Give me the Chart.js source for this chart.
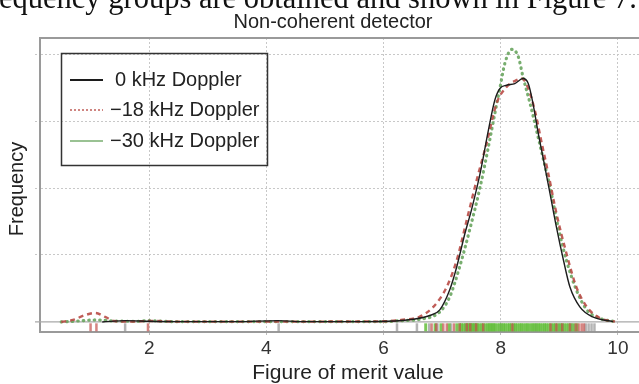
<!DOCTYPE html>
<html>
<head>
<meta charset="utf-8">
<script src="https://cdn.jsdelivr.net/npm/chart.js@4.4.1/dist/chart.umd.min.js"></script>
<style>
  body { margin: 0; background: #fff; }
  #wrap { position: relative; width: 639px; height: 384px; overflow: hidden; }
  #above {
    position: absolute; left: -1px; top: -17px; white-space: nowrap;
    font: 30.5px/30px "Liberation Serif", serif; color: #111;
  }
</style>
</head>
<body>
<div id="wrap">
  <canvas id="c" width="639" height="384"></canvas>
  <div id="above">equency groups are obtained and shown in Figure 7.</div>
</div>
<script>
// ticks
const xTicks = [2, 4, 6, 8, 10];
const yGrid = [0, 0.2, 0.4, 0.6, 0.8];
const seriesNames = ['0 kHz Doppler', '\u221218 kHz Doppler', '\u221230 kHz Doppler'];

// density curves
const x0 = [1.2, 1.6, 2.0, 2.5, 3.5, 4.2, 4.6, 5.5, 6.2, 6.5, 6.8, 6.96, 7.13, 7.25, 7.39, 7.5, 7.65, 7.79, 7.9, 7.99, 8.1, 8.24, 8.38, 8.47, 8.55, 8.64, 8.73, 8.84, 8.95, 9.07, 9.18, 9.35, 9.57, 9.92];
const y0 = [0, 0.004, 0.002, 0.001, 0.001, 0.004, 0.001, 0.001, 0.003, 0.008, 0.02, 0.036, 0.096, 0.165, 0.265, 0.334, 0.445, 0.573, 0.663, 0.698, 0.707, 0.712, 0.727, 0.712, 0.653, 0.564, 0.484, 0.385, 0.284, 0.185, 0.105, 0.045, 0.015, 0.001];

const x1 = [0.5, 0.7, 0.9, 1.08, 1.25, 1.4, 1.7, 2.0, 2.5, 4.0, 6.0, 6.3, 6.62, 6.85, 7.08, 7.25, 7.42, 7.59, 7.76, 7.93, 8.1, 8.27, 8.36, 8.46, 8.58, 8.7, 8.81, 8.95, 9.12, 9.29, 9.47, 9.69, 9.95];
const y1 = [0, 0.006, 0.02, 0.027, 0.015, 0.003, 0.001, 0.003, 0.001, 0.001, 0.002, 0.006, 0.016, 0.045, 0.105, 0.185, 0.304, 0.424, 0.534, 0.653, 0.702, 0.722, 0.727, 0.702, 0.633, 0.534, 0.445, 0.325, 0.206, 0.105, 0.045, 0.012, 0.001];

const x2 = [0.5, 0.8, 1.1, 1.4, 1.8, 2.0, 2.4, 4.0, 6.0, 6.3, 6.62, 6.96, 7.13, 7.3, 7.47, 7.65, 7.79, 7.9, 7.99, 8.07, 8.19, 8.3, 8.38, 8.5, 8.61, 8.73, 8.84, 8.98, 9.12, 9.29, 9.47, 9.69, 9.95];
const y2 = [0, 0.003, 0.006, 0.003, 0.002, 0.004, 0.001, 0.001, 0.001, 0.004, 0.008, 0.03, 0.075, 0.165, 0.275, 0.404, 0.523, 0.623, 0.702, 0.772, 0.814, 0.792, 0.732, 0.653, 0.573, 0.484, 0.404, 0.284, 0.185, 0.096, 0.036, 0.011, 0.001];

// rug marks along the bottom
const rug0 = [1.59, 4.21, 6.23, 6.57, 6.78, 6.92, 7.15, 7.4, 7.55, 8.0, 8.6, 9.0, 9.22, 9.45, 9.5, 9.55, 9.6];
const rug1 = [1.0, 1.1, 1.98, 6.82, 6.9, 7.02, 7.08, 7.2, 7.3, 7.42, 7.48, 7.58, 7.7, 8.2, 8.85, 8.95, 9.05, 9.18, 9.28, 9.33, 9.38, 9.42];
const rug2 = [6.72, 6.88, 6.98, 7.12, 7.25, 7.3, 7.33, 7.36, 7.4, 7.43, 7.45, 7.48, 7.5, 7.52, 7.55, 7.58, 7.6, 7.63, 7.67, 7.7, 7.74, 7.78, 7.8, 7.83, 7.85, 7.88, 7.9, 7.94, 7.98, 8.02, 8.05, 8.08, 8.12, 8.15, 8.18, 8.22, 8.25, 8.28, 8.32, 8.35, 8.38, 8.42, 8.45, 8.48, 8.52, 8.55, 8.58, 8.62, 8.65, 8.68, 8.72, 8.75, 8.78, 8.82, 8.86, 8.9, 8.93, 8.97, 9.02, 9.05, 9.08, 9.12, 9.16, 9.2, 9.25, 9.3];

const pts = (xs, ys) => xs.map((x, i) => ({x: x, y: ys[i]}));
const RUG_Y = -0.016;
const rugPts = r => r.map(v => ({x: v, y: RUG_Y}));

const curve = (label, data, color, width, dash, cap) => ({
  label, data, showLine: true, borderColor: color, borderWidth: width,
  borderDash: dash, borderCapStyle: cap, pointRadius: 0,
  tension: 0.4, cubicInterpolationMode: 'monotone', fill: false
});
const rug = (data, color, w) => ({
  data, showLine: false, pointStyle: 'line', rotation: 90, pointRadius: 4,
  pointBorderWidth: w, pointBorderColor: color, pointBackgroundColor: color, isRug: true
});

const FONT = '"Liberation Sans", Arial, sans-serif';

const extras = {
  id: 'extras',
  beforeDatasetsDraw(chart) {
    const {ctx, chartArea, scales} = chart;
    const y = scales.y.getPixelForValue(0);
    ctx.save();
    ctx.strokeStyle = '#a8a8a8';
    ctx.lineWidth = 1.2;
    ctx.beginPath();
    ctx.moveTo(chartArea.left - 5, y);
    ctx.lineTo(chartArea.right, y);
    ctx.stroke();
    ctx.strokeStyle = '#9a9a9a';
    ctx.lineWidth = 2;
    ctx.beginPath();
    ctx.moveTo(chartArea.left, chartArea.top);
    ctx.lineTo(chartArea.right, chartArea.top);
    ctx.stroke();
    ctx.restore();
  },
  afterDraw(chart) {
    const {ctx} = chart;
    ctx.save();
    ctx.fillStyle = '#222';
    ctx.textAlign = 'center';
    ctx.textBaseline = 'alphabetic';
    ctx.font = '20px ' + FONT;
    ctx.fillText('Non-coherent detector', 333, 28);
    ctx.font = '21px ' + FONT;
    ctx.fillText('Figure of merit value', 348, 379);
    ctx.font = '20px ' + FONT;
    ctx.translate(23, 189);
    ctx.rotate(-Math.PI / 2);
    ctx.fillText('Frequency', 0, 0);
    ctx.restore();

    // legend
    ctx.save();
    ctx.strokeStyle = '#333';
    ctx.lineWidth = 1.5;
    ctx.strokeRect(61.5, 53.5, 206, 112);
    const rows = [80, 110, 141];
    ctx.font = '20px ' + FONT;
    ctx.textAlign = 'left';
    ctx.textBaseline = 'middle';
    chart.data.datasets.filter(d => !d.isRug).forEach((d, i) => {
      ctx.save();
      ctx.strokeStyle = d.borderColor;
      ctx.lineWidth = i === 0 ? 1.8 : 1.5;
      ctx.setLineDash(i === 1 ? [2, 2] : []);
      ctx.beginPath();
      ctx.moveTo(70, rows[i]);
      ctx.lineTo(103, rows[i]);
      ctx.stroke();
      ctx.restore();
      ctx.fillStyle = '#222';
      ctx.fillText(d.label, i === 0 ? 115 : 110, rows[i]);
    });
    ctx.restore();
  }
};

new Chart(document.getElementById('c'), {
  type: 'scatter',
  data: {
    datasets: [
      curve(seriesNames[0], pts(x0, y0), '#1c1c1c', 1.4, [], 'butt'),
      curve(seriesNames[1], pts(x1, y1), 'rgba(185,75,70,0.9)', 2.4, [5, 4], 'butt'),
      curve(seriesNames[2], pts(x2, y2), 'rgba(105,165,95,0.9)', 3.2, [0.5, 5], 'round'),
      rug(rugPts(rug1), 'rgba(195,80,75,0.7)', 2.5),
      rug(rugPts(rug2), 'rgba(100,190,60,0.85)', 3),
      rug(rugPts(rug0), 'rgba(130,130,130,0.6)', 2.5)
    ]
  },
  options: {
    responsive: false,
    animation: false,
    events: [],
    layout: {autoPadding: false, padding: {top: 38, left: 0, right: 0, bottom: 0}},
    plugins: {legend: {display: false}, tooltip: {enabled: false}, title: {display: false}},
    scales: {
      x: {
        type: 'linear', min: 0.137, max: 10.36,
        afterBuildTicks: s => { s.ticks = xTicks.map(v => ({value: v})); },
        afterFit: s => { s.height = 52; },
        grid: {color: '#c8c8c8', lineWidth: 1, drawTicks: true, tickLength: 3, tickColor: '#bbb'},
        border: {display: true, color: '#9a9a9a', width: 2, dash: [2, 2]},
        ticks: {color: '#333', font: {family: FONT, size: 19}, padding: 2}
      },
      y: {
        type: 'linear', min: -0.03, max: 0.848,
        afterBuildTicks: s => { s.ticks = yGrid.map(v => ({value: v})); },
        afterFit: s => { s.width = 40; },
        grid: {
          color: c => c.tick && c.tick.value === 0 ? 'rgba(0,0,0,0)' : '#c8c8c8',
          lineWidth: 1, drawTicks: true, tickLength: 5,
          tickColor: c => c.tick && c.tick.value === 0 ? 'rgba(0,0,0,0)' : '#c8c8c8',
          tickBorderDash: [2, 2]
        },
        border: {display: true, color: '#9a9a9a', width: 2, dash: [2, 2]},
        ticks: {display: false}
      }
    }
  },
  plugins: [extras]
});
</script>
</body>
</html>
